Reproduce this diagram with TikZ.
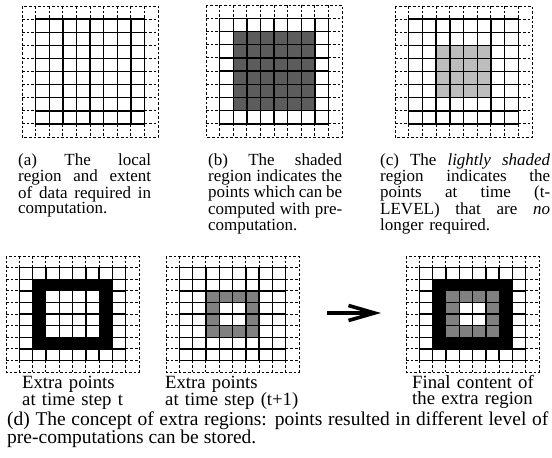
\documentclass[tikz,border=0pt]{standalone}
\usepackage{fontspec}
\setmainfont{Liberation Serif}
\usetikzlibrary{arrows.meta}
\hbadness=10000
\hfuzz=50pt
\lineskiplimit=-20pt
\definecolor{darkstip}{gray}{0.36}
\definecolor{lightstip}{gray}{0.74}
\definecolor{midstip}{gray}{0.50}
\newcommand\topfont{\fontsize{17}{14.7}\selectfont}
\newcommand\labfont{\fontsize{18.7}{16.2}\selectfont}
\newcommand\capfont{\fontsize{19.5}{17.5}\selectfont}
% a justified line of a given width
\newcommand\jline[2]{\hbox to #1{\spaceskip=0pt\relax\xspaceskip=0pt\relax #2}\par}
\tikzset{
  dashline/.style={line width=0.9pt, dash pattern=on 2.6pt off 2pt},
  gridline/.style={line width=1.4pt, line cap=rect},
  toptxt/.style={font=\topfont, inner sep=0pt, anchor=base west, align=left},
  labtxt/.style={font=\labfont, inner sep=0pt, anchor=base west, align=left, text width=140pt},
  captxt/.style={font=\capfont, inner sep=0pt, anchor=base west, align=left, text width=541pt},
  bigarrow/.style={line width=3.6pt, -{Straight Barb[length=26pt, width=15pt]}}
}
% #1 x0, #2 y0, #3 cell width, #4 cell height
\newcommand\cellgrid[4]{%
  \begin{scope}[shift={(#1,#2)}]
    \draw[dashline] (0,0) rectangle (10*#3,10*#4);
    \foreach \i in {1,...,9}{
      \draw[dashline] (\i*#3,0) -- (\i*#3,#4);
      \draw[dashline] (\i*#3,9*#4) -- (\i*#3,10*#4);
      \draw[dashline] (0,\i*#4) -- (#3,\i*#4);
      \draw[dashline] (9*#3,\i*#4) -- (10*#3,\i*#4);
    }
    \foreach \i in {1,...,9}{
      \draw[gridline] (\i*#3,#4) -- (\i*#3,9*#4);
      \draw[gridline] (#3,\i*#4) -- (9*#3,\i*#4);
    }
  \end{scope}}
% #1 x0, #2 y0, #3 w, #4 h, #5 first col, #6 last col+1, #7 first row, #8 last row+1, #9 colour
\newcommand\shadecells[9]{%
  \begin{scope}[shift={(#1,#2)}]
    \fill[#9] (#5*#3,#7*#4) rectangle (#6*#3,#8*#4);
  \end{scope}}
\begin{document}
\begin{tikzpicture}[x=1pt,y=-1pt]
\useasboundingbox (0,0) rectangle (552,458);
\fill[white] (0,0) rectangle (552,458);

% (a)
\cellgrid{22}{6}{13.6}{13.1}
% (b)
\shadecells{206}{5}{13.6}{13.2}{2}{8}{2}{8}{darkstip}
\cellgrid{206}{5}{13.6}{13.2}
% (c)
\shadecells{395}{6}{13.7}{13.1}{3}{7}{3}{7}{lightstip}
\cellgrid{395}{6}{13.7}{13.1}

% (d) step t
\cellgrid{6}{256}{13.3}{11.6}
\shadecells{6}{256}{13.3}{11.6}{2}{8}{2}{8}{black}
\shadecells{6}{256}{13.3}{11.6}{3}{7}{3}{7}{white}
\begin{scope}[shift={(6,256)}]
  \foreach \i in {4,5,6}{
    \draw[gridline] (\i*13.3,3*11.6) -- (\i*13.3,7*11.6);
    \draw[gridline] (3*13.3,\i*11.6) -- (7*13.3,\i*11.6);
  }
\end{scope}

% (d) step t+1
\shadecells{166}{256}{13.3}{11.6}{3}{7}{3}{7}{midstip}
\shadecells{166}{256}{13.3}{11.6}{4}{6}{4}{6}{white}
\cellgrid{166}{256}{13.3}{11.6}

% (d) final content
\cellgrid{406}{256}{13.3}{11.6}
\shadecells{406}{256}{13.3}{11.6}{2}{8}{2}{8}{black}
\shadecells{406}{256}{13.3}{11.6}{3}{7}{3}{7}{midstip}
\shadecells{406}{256}{13.3}{11.6}{4}{6}{4}{6}{white}
\begin{scope}[shift={(406,256)}]
  \foreach \i in {4,5,6}{
    \draw[gridline] (\i*13.3,3*11.6) -- (\i*13.3,7*11.6);
    \draw[gridline] (3*13.3,\i*11.6) -- (7*13.3,\i*11.6);
  }
\end{scope}

% arrow
\coordinate (arrowtail) at (327,313);
\coordinate (arrowtip) at (381,313);
\draw[bigarrow] (arrowtail) -- (arrowtip);

% captions
\node[toptxt, text width=133pt] (capa) at (18,165) {\jline{133pt}{(a) The local}\jline{133pt}{region and extent}\jline{133pt}{of data required in}\hbox{computation.}};
\node[toptxt, text width=134pt] (capb) at (208,165) {\jline{134pt}{(b) The shaded}\jline{134pt}{region indicates the}\jline{134pt}{points which can be}\jline{134pt}{computed with pre-}\hbox{computation.}};
\node[toptxt, text width=170pt] (capc) at (380,165) {\jline{170pt}{(c) The \textit{lightly shaded}}\jline{170pt}{region indicates the}\jline{170pt}{points at time (t-}\jline{170pt}{LEVEL) that are \textit{no}}\hbox{longer required.}};

\node[labtxt] (laba) at (22,388) {\hbox{Extra points}\par\hbox{at time step t}};
\node[labtxt] (labb) at (165,388) {\hbox{Extra points}\par\hbox{at time step (t+1)}};
\node[labtxt] (labc) at (412,388) {\hbox{Final content of}\par\hbox{the extra region}};
\node[captxt] (capd) at (7,425) {\jline{541pt}{(d) The concept of extra regions: points resulted in different level of}\hbox{\spaceskip=0pt\relax pre-computations can be stored.}};
\end{tikzpicture}
\end{document}
